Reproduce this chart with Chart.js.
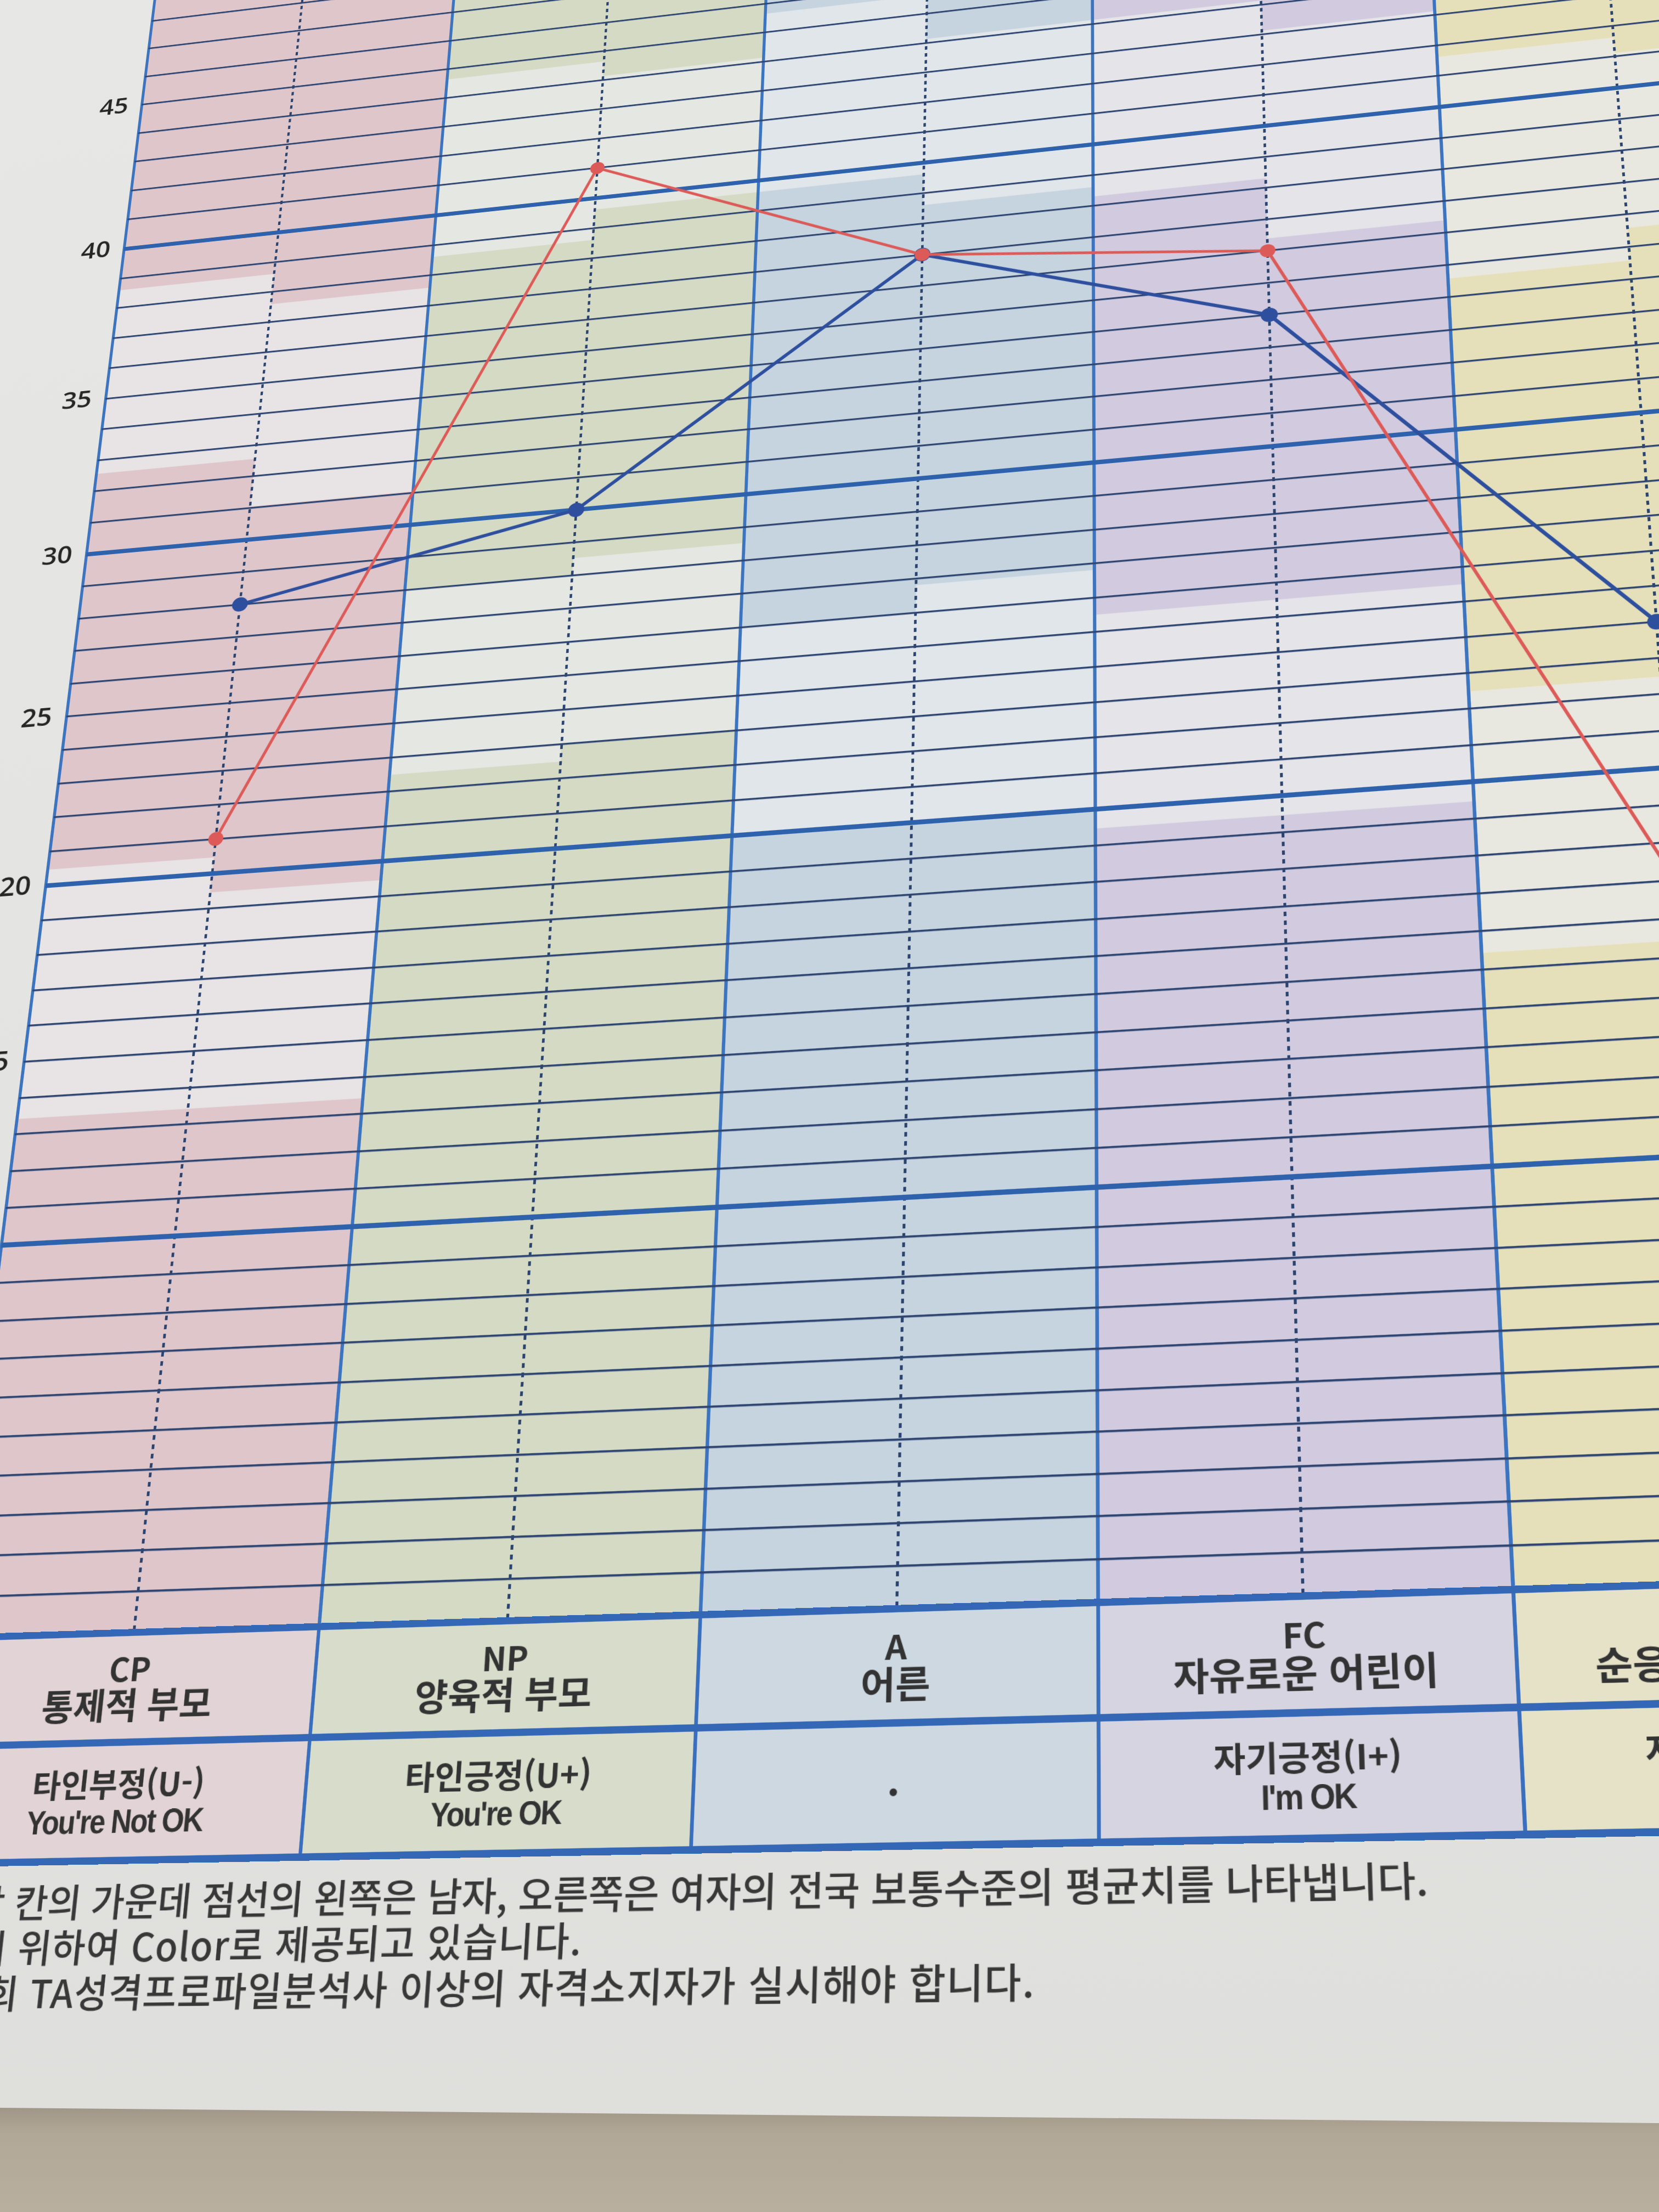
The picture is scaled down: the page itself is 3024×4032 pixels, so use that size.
<!DOCTYPE html>
<html lang="ko">
<head>
<meta charset="utf-8">
<title>TA 에고그램</title>
<script src="https://cdn.jsdelivr.net/npm/chart.js@4.4.1/dist/chart.umd.min.js"></script>
<style>
  html, body { margin:0; padding:0; width:3024px; height:4032px; overflow:hidden; background:#dfe0dd; }
  #page { position:absolute; left:0; top:0; width:4300px; height:4500px; transform-origin:0 0;
    background: linear-gradient(180deg, #e7e8e5 0%, #e3e4e1 55%, #dcdcd9 100%); }
  #bands, #main { position:absolute; left:700px; top:0; }
  #table { position:absolute; }
  .row { display:grid; box-sizing:border-box; border-top:10px solid #3467b5; }
  .row.r2 { border-bottom:10px solid #3467b5; }
  .cell { box-sizing:border-box; border-left:5px solid #3a6fbd; display:flex; flex-direction:column;
    align-items:center; justify-content:center; text-align:center; color:#333;
    font-family:'Noto Sans CJK KR','Noto Sans',sans-serif; font-weight:700; white-space:nowrap; }
  .abbr { font-size:46px; line-height:46px; font-weight:700; }
  .name { font-size:51px; line-height:56px; }
  .ko { font-size:45px; line-height:56px; }
  .en span { display:inline-block; font-family:'Liberation Sans',Arial,sans-serif; font-weight:700;
    font-size:46px; line-height:50px; transform:scaleX(0.9); letter-spacing:-2px; }
  .dot { font-size:34px; line-height:40px; margin-top:14px; }
  #notes { position:absolute; font-family:'Noto Sans CJK KR',sans-serif; font-weight:500; font-size:52px;
    line-height:61px; color:#383838; white-space:nowrap; }
  #notes .l2 { margin-left:10px; letter-spacing:1px; }
  #notes .l3 { margin-left:34px; letter-spacing:1px; }
  #desk { position:absolute; left:0; top:3800px; width:3024px; height:232px; z-index:5;
    clip-path: polygon(0 42px, 100% 70px, 100% 100%, 0 100%);
    background: linear-gradient(180deg, #77716a 0px, #9f9687 40px, #b1a897 90px, #b8af9f 100%); }
</style>
</head>
<body>
<div id="page">
  <canvas id="bands" width="3020" height="3080"></canvas>
  <canvas id="main" width="3020" height="3080"></canvas>
  <div id="table"></div>
  <div id="notes"></div>
</div>
<div id="desk"></div>
<script>
// ---------------- data ----------------
const categories    = ['CP', 'NP', 'A', 'FC', 'AC'];
const categoryNames = ['통제적 부모', '양육적 부모', '어른', '자유로운 어린이', '순응하는 어린이'];
const stanceKo      = ['타인부정(U-)', '타인긍정(U+)', '•', '자기긍정(I+)', '자기부정(I-)'];
const stanceEn      = ["You're Not OK", "You're OK", '', "I'm OK", "I'm Not OK"];
const blueScores    = [28, 30, 37, 34, 24];
const redScores     = [21, 41, 37, 36, 17];
const yTickLabels   = [0, 5, 10, 15, 20, 25, 30, 35, 40, 45];
const yMin = 0, yMax = 50;
// shaded norm bands: column index, side (0 = left/male, 1 = right/female), low, high
const bandColumn = [0,0,0, 0,0,0, 1,1,1, 1,1,1, 2,2,2, 2,2,2, 3,3,3, 3,3,3, 4,4,4, 4,4,4];
const bandSide   = [0,0,0, 1,1,1, 0,0,0, 1,1,1, 0,0,0, 1,1,1, 0,0,0, 1,1,1, 0,0,0, 1,1,1];
const bandLow    = [38.5,20.5,0, 37.5,19.5,0, 44.5,28,0, 44,28.5,0, 45.5,26,0, 44,26.8,0,
                    44,25.5,0, 43,25.5,0, 41.5,22.5,0, 41,23.5,0];
const bandHigh   = [50,32.5,13.5, 50,31,13.5, 50,38.5,22.5, 50,39.5,23, 50,39.5,20, 50,38.5,20,
                    50,38.2,19.5, 50,36.3,19.5, 50,34.5,15.5, 50,35.5,16.5];
const notes = [
  '각 칸의 가운데 점선의 왼쪽은 남자, 오른쪽은 여자의 전국 보통수준의 평균치를 나타냅니다.',
  '기 위하여 Color로 제공되고 있습니다.',
  '회 TA성격프로파일분석사 이상의 자격소지자가 실시해야 합니다.'
];

// ---------------- styles ----------------
const baseColors  = ['#e8e4e5', '#e5e7e2', '#e1e6ea', '#e5e4e9', '#e9e8e0'];
const bandColors  = ['#dec6cb', '#d4dac3', '#c6d4df', '#d2cbe0', '#e5e0ba'];
const tableColors = ['#e1d3d6', '#d7dccb', '#cdd8e0', '#d7d4e1', '#e5e2c8'];
const OX = 700, OY = 0, AXIS_W = 300, PAD = {top:40, right:20, bottom:40};

const common = {
  responsive:false, maintainAspectRatio:false, animation:false, devicePixelRatio:1, events:[],
  plugins:{ legend:{display:false}, tooltip:{enabled:false} }
};

// ---------- background bands chart ----------
const halfX = (col, side) => col + 0.25 + 0.5 * side;
const baseData = [], baseBg = [];
categories.forEach((c, i) => { [0, 1].forEach(s => { baseData.push({x: halfX(i, s), y: [yMin, yMax]}); baseBg.push(baseColors[i]); }); });
const bandData = bandColumn.map((c, i) => ({x: halfX(c, bandSide[i]), y: [bandLow[i], bandHigh[i]]}));

new Chart(document.getElementById('bands'), {
  type:'bar',
  data:{ datasets:[
    { label:'base', order:1, data:baseData, backgroundColor:baseBg, borderWidth:0, grouped:false,
      barPercentage:1, categoryPercentage:1 },
    { label:'bands', order:0, data:bandData, backgroundColor:bandColumn.map(c => bandColors[c]), borderWidth:0,
      grouped:false, barPercentage:1, categoryPercentage:1 }
  ]},
  options:Object.assign({}, common, {
    layout:{ padding:{ left:AXIS_W, top:PAD.top, right:PAD.right, bottom:PAD.bottom } },
    scales:{
      x:{ type:'linear', min:0, max:categories.length, offset:false, display:false, ticks:{stepSize:0.5} },
      y:{ type:'linear', min:yMin, max:yMax, display:false }
    }
  })
});

// ---------- main chart: grid, ticks, lines ----------
const pts = arr => arr.map((v, i) => ({x: i + 0.5, y: v}));
const main = new Chart(document.getElementById('main'), {
  type:'line',
  data:{ datasets:[
    { label:'점수 1', order:1, data:pts(blueScores), borderColor:'#2d4f9e', backgroundColor:'#2d4f9e',
      borderWidth:6, pointRadius:13, pointBorderWidth:0, tension:0 },
    { label:'점수 2', order:0, data:pts(redScores), borderColor:'#dc5a57', backgroundColor:'#dc5a57',
      borderWidth:5, pointRadius:12, pointBorderWidth:0, tension:0 }
  ]},
  options:Object.assign({}, common, {
    layout:{ padding:{ left:0, top:PAD.top, right:PAD.right, bottom:PAD.bottom } },
    scales:{
      x:{ type:'linear', position:'bottom', min:0, max:categories.length,
          ticks:{ display:false, stepSize:1 },
          grid:{ color:'#3d74c0', lineWidth:5, drawTicks:false },
          border:{ display:false }, afterFit:s => { s.height = 0; } },
      xc:{ type:'linear', position:'bottom', min:0, max:categories.length,
          ticks:{ display:false },
          afterBuildTicks:s => { s.ticks = categories.map((c, i) => ({value: i + 0.5})); },
          grid:{ color:'#2b446f', lineWidth:4, drawTicks:false },
          border:{ display:false, dash:[7, 7] }, afterFit:s => { s.height = 0; } },
      y:{ type:'linear', min:yMin, max:yMax,
          ticks:{ stepSize:1, autoSkip:false, padding:24, color:'#262626',
                  font:{ family:'Open Sans', size:45, weight:'600' },
                  callback:v => yTickLabels.includes(v) ? String(v) : '' },
          grid:{ drawTicks:false,
                 color:ctx => (ctx.tick && ctx.tick.value % 10 === 0) ? '#2f62ad' : '#2f4672',
                 lineWidth:ctx => (ctx.tick && ctx.tick.value % 10 === 0) ? 8 : 3.2 },
          border:{ display:false },
          afterFit:s => { s.width = AXIS_W; } }
    }
  })
});

// ---------- table under the chart ----------
const xs = main.scales.x, ys = main.scales.y;
const colW = xs.getPixelForValue(1) - xs.getPixelForValue(0);
const table = document.getElementById('table');
table.style.left = (OX + xs.getPixelForValue(0) - 2.5) + 'px';
table.style.top = (OY + ys.getPixelForValue(0) - 5) + 'px';
table.style.width = (colW * categories.length + 5) + 'px';
const row1 = document.createElement('div'); row1.className = 'row r1';
const row2 = document.createElement('div'); row2.className = 'row r2';
[row1, row2].forEach(r => { r.style.gridTemplateColumns = `repeat(${categories.length}, ${colW}px)`; });
row1.style.height = '156px'; row2.style.height = '174px';
categories.forEach((c, i) => {
  const a = document.createElement('div'); a.className = 'cell'; a.style.background = tableColors[i];
  a.innerHTML = `<div class="abbr">${c}</div><div class="name">${categoryNames[i]}</div>`;
  row1.appendChild(a);
  const b = document.createElement('div'); b.className = 'cell'; b.style.background = tableColors[i];
  if (stanceEn[i]) b.innerHTML = `<div class="ko">${stanceKo[i]}</div><div class="en"><span>${stanceEn[i]}</span></div>`;
  else b.innerHTML = `<div class="dot">${stanceKo[i]}</div>`;
  row2.appendChild(b);
});
table.appendChild(row1); table.appendChild(row2);

const notesEl = document.getElementById('notes');
notesEl.innerHTML = notes.map((t, i) => `<div class="l${i + 1}">${t}</div>`).join('');
notesEl.style.left = (OX + xs.getPixelForValue(0) + 76) + 'px';
notesEl.style.top = (OY + ys.getPixelForValue(0) + 343) + 'px';

// ---------- photo perspective (layout only): least-squares homography on grid anchors ----------
function fitHomography(src, dst) {
  const s = 1 / 1000;
  const M = Array.from({length:8}, () => new Array(8).fill(0)), v = new Array(8).fill(0);
  const addRow = (r, t) => { for (let i = 0; i < 8; i++) { v[i] += r[i] * t; for (let j = 0; j < 8; j++) M[i][j] += r[i] * r[j]; } };
  for (let i = 0; i < src.length; i++) {
    const x = src[i][0] * s, y = src[i][1] * s, X = dst[i][0] * s, Y = dst[i][1] * s;
    addRow([x, y, 1, 0, 0, 0, -x * X, -y * X], X);
    addRow([0, 0, 0, x, y, 1, -x * Y, -y * Y], Y);
  }
  const n = 8;
  for (let c = 0; c < n; c++) {
    let p = c;
    for (let r = c + 1; r < n; r++) if (Math.abs(M[r][c]) > Math.abs(M[p][c])) p = r;
    [M[c], M[p]] = [M[p], M[c]]; [v[c], v[p]] = [v[p], v[c]];
    for (let r = c + 1; r < n; r++) {
      const f = M[r][c] / M[c][c];
      for (let k = c; k < n; k++) M[r][k] -= f * M[c][k];
      v[r] -= f * v[c];
    }
  }
  const h = new Array(n);
  for (let r = n - 1; r >= 0; r--) {
    let t = v[r];
    for (let k = r + 1; k < n; k++) t -= M[r][k] * h[k];
    h[r] = t / M[r][r];
  }
  return [h[0], h[1], h[2] / s, h[3], h[4], h[5] / s, h[6] * s, h[7] * s];
}
// grid intersections (column position, score) and where they sit in the photographed page
const anchors = [
  [0,40,218,431],[0,30,148,991],[0,20,75,1594],[0.5,30,450,984],[0.5,20,385,1584],[0.5,10,311,2238],
  [0.5,0,230,2962],[1,20.3,703,1600],[1,10,649,2236],[1,0,586,2962],[1.5,40,1100,390],[1.5,30,1059,954],
  [1.5,10,976,2225],[1.5,0,928,2953],[2,10,1320,2216],[2,0,1282,2948],[2.5,40,1683,317],[2.5,30,1683,894],
  [3,0,2002,2925],[3.5,40,2305,223],[3.5,30,2305,820],[4,40,2632,170],[4,30,2654,759],[4,20,2680,1410],
  [4,0,2760,2907],[4.5,30,2987,745],[4.5,20,3023,1395]
];
const src = anchors.map(a => [OX + xs.getPixelForValue(a[0]), OY + ys.getPixelForValue(a[1])]);
const dst = anchors.map(a => [a[2], a[3]]);
const h = fitHomography(src, dst);
document.getElementById('page').style.transform =
  `matrix3d(${h[0]},${h[3]},0,${h[6]},${h[1]},${h[4]},0,${h[7]},0,0,1,0,${h[2]},${h[5]},0,1)`;
</script>
</body>
</html>
